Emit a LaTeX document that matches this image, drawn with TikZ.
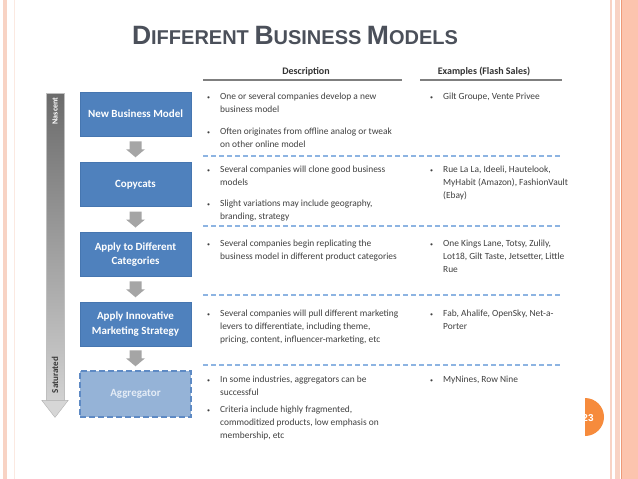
\documentclass[tikz,border=0pt]{standalone}
\usepackage{fontspec}
\setmainfont{Carlito}
\newfontfamily\titlefont{Liberation Sans}
\usetikzlibrary{calc}
\definecolor{boxblue}{HTML}{4F81BD}
\definecolor{boxedge}{HTML}{4676B0}
\definecolor{aggfill}{HTML}{95B3D7}
\definecolor{aggedge}{HTML}{5E8AC4}
\definecolor{aggtext}{HTML}{E4ECF6}
\definecolor{sepblue}{HTML}{8DB4E2}
\definecolor{bodytext}{HTML}{404040}
\definecolor{titlegray}{HTML}{4B505A}
\definecolor{rulegray}{HTML}{7F7F7F}
\definecolor{smallarrow}{HTML}{A5A5A5}
\definecolor{pageorange}{HTML}{F68B3C}
\definecolor{salmon}{HTML}{FCC4AE}
\definecolor{salmonlt}{HTML}{F8D3C4}
\definecolor{salmondk}{HTML}{EE9A78}
\newcommand\bitem[4]{%
  \node[bul] (#1b) at ($(#2,#3)+(-13,0)$) {\textbullet};
  \node[txt] (#1) at (#2,#3) {\begin{tabular}[t]{@{}l@{}}#4\end{tabular}};}
\begin{document}
\begin{tikzpicture}[x=1pt,y=-1pt,
  bbox/.style={draw=boxedge, fill=boxblue, minimum width=111, minimum height=44,
    text=white, font=\fontsize{11}{14.5}\selectfont\bfseries, align=center, inner sep=2pt},
  aggbox/.style={draw=aggedge, fill=aggfill, line width=1.3pt, dash pattern=on 6pt off 3pt,
    minimum width=111, minimum height=46, text=aggtext, font=\fontsize{11}{14.5}\selectfont\bfseries},
  txt/.style={anchor=base west, inner sep=0pt, text=bodytext,
    font=\fontsize{9.4}{13.3}\selectfont},
  bul/.style={anchor=base west, inner sep=0pt, text=bodytext, font=\fontsize{6}{7}\selectfont},
  hdr/.style={anchor=base, inner sep=0pt, text=black!80, font=\fontsize{10}{12}\selectfont\bfseries},
  sep/.style={draw=sepblue, line width=1.2pt, dash pattern=on 5pt off 3pt},
  blockarrow/.style={fill=smallarrow}
]
\useasboundingbox (0,0) rectangle (638,479);
\fill[white] (0,0) rectangle (638,479);
% borders
\fill[salmonlt] (3,0) rectangle (7,479);
\draw[salmonlt!50, line width=0.6pt] (14.5,0) -- (14.5,479);
\fill[salmonlt] (609.5,0) rectangle (611.5,479);
\fill[salmonlt] (615,0) rectangle (620,479);
\fill[salmon] (622,0) rectangle (638,479);
\draw[salmondk, line width=1.2pt] (621.5,0) -- (621.5,479);
% title
\node[anchor=base, inner sep=0pt, text=titlegray] (title) at (295,45)
  {\titlefont\bfseries\fontsize{26.5}{26}\selectfont D\fontsize{20}{20}\selectfont IFFERENT
   \fontsize{26.5}{26}\selectfont B\fontsize{20}{20}\selectfont USINESS
   \fontsize{26.5}{26}\selectfont M\fontsize{20}{20}\selectfont ODELS};
% headers
\node[hdr] (hd) at (306,74) {Description};
\node[hdr] (he) at (484,74) {Examples (Flash Sales)};
\draw[rulegray, line width=1.5pt] (203,80) -- (402,80);
\draw[rulegray, line width=1.5pt] (420,80) -- (562,80);
% big gray arrow
\node[draw=black!25, top color=black!58, bottom color=black!18, minimum width=18,
  minimum height=307, inner sep=0pt, anchor=north] (scale) at (55,93) {};
\draw[fill=black!16, draw=black!30] ($(scale.south west)+(-4,0)$) -- ($(scale.south east)+(4,0)$)
  -- ($(scale.south)+(0,17)$) -- cycle;
\node[rotate=90, text=white, font=\fontsize{8}{8}\selectfont\bfseries, inner sep=0pt] (nasc) at (55,111) {Nascent};
\node[rotate=90, text=black!78, font=\fontsize{9}{9}\selectfont\bfseries, inner sep=0pt] (sat) at (55,375) {Saturated};
% boxes
\node[bbox] (b1) at (135.5,114) {New Business Model};
\node[bbox] (b2) at (135.5,184.5) {Copycats};
\node[bbox] (b3) at (135.5,254.5) {Apply to Different\\Categories};
\node[bbox] (b4) at (135.5,324) {Apply Innovative\\Marketing Strategy};
\node[aggbox] (b5) at (135.5,394) {Aggregator};
% small arrows
\foreach \u/\l in {b1/b2,b2/b3,b3/b4,b4/b5}{
  \path ($(\u.south)!0.5!(\l.north)$) coordinate (m);
  \fill[blockarrow] ($(m)+(-6,-8)$) -- ($(m)+(6,-8)$) -- ($(m)+(6,0)$) -- ($(m)+(9.5,0)$)
    -- ($(m)+(0,8)$) -- ($(m)+(-9.5,0)$) -- ($(m)+(-6,0)$) -- cycle;
}
% separators
\foreach \yy in {156,226,295,365}{\draw[sep] (203,\yy) -- (562,\yy);}
% description column
\bitem{d1}{220}{99}{One or several companies develop a new\\business model}
\bitem{d2}{220}{134}{Often originates from offline analog or tweak\\on other online model}
\bitem{d3}{220}{172}{Several companies will clone good business\\models}
\bitem{d4}{220}{206}{Slight variations may include geography,\\branding, strategy}
\bitem{d5}{220}{246}{Several companies begin replicating the\\business model in different product categories}
\bitem{d6}{220}{316}{Several companies will pull different marketing\\levers to differentiate, including theme,\\pricing, content, influencer-marketing, etc}
\bitem{d7}{220}{382}{In some industries, aggregators can be\\successful}
\bitem{d8}{220}{412}{Criteria include highly fragmented,\\commoditized products, low emphasis on\\membership, etc}
% examples column
\bitem{e1}{443}{99}{Gilt Groupe, Vente Privee}
\bitem{e2}{443}{172}{Rue La La, Ideeli, Hautelook,\\MyHabit (Amazon), FashionVault\\(Ebay)}
\bitem{e3}{443}{246}{One Kings Lane, Totsy, Zulily,\\Lot18, Gilt Taste, Jetsetter, Little\\Rue}
\bitem{e4}{443}{316}{Fab, Ahalife, OpenSky, Net-a-\\Porter}
\bitem{e5}{443}{382}{MyNines, Row Nine}
% page number
\begin{scope}
\clip (585,390) rectangle (615,445);
\fill[pageorange] (585,417) circle[radius=19];
\end{scope}
\node[text=white, font=\titlefont\bfseries\fontsize{10}{10}\selectfont, inner sep=0pt] (pg) at (588,418) {23};
\end{tikzpicture}
\end{document}
